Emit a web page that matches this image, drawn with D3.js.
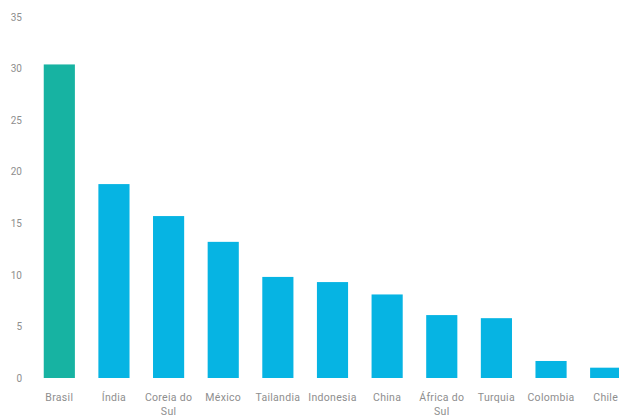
<!DOCTYPE html>
<html>
<head>
<meta charset="utf-8">
<script src="https://cdn.jsdelivr.net/npm/d3@7"></script>
<style>
  body { margin: 0; background: #fff; overflow: hidden; }
  svg text { font-family: "Roboto", sans-serif; fill: #8e8e8e; }
</style>
</head>
<body>
<div id="chart"></div>
<script>
const countries = ["Brasil", "Índia", "Coreia do Sul", "México", "Tailandia", "Indonesia", "China", "África do Sul", "Turquia", "Colombia", "Chile"];
const values = [30.4, 18.8, 15.7, 13.2, 9.8, 9.3, 8.1, 6.1, 5.8, 1.65, 1.0];
const yTicks = [0, 5, 10, 15, 20, 25, 30, 35];

const width = 619, height = 417;

const svg = d3.select("#chart")
  .append("svg")
    .attr("width", width)
    .attr("height", height);

const x = d3.scaleBand()
  .domain(countries)
  .range([32, 633])
  .paddingInner(0.43)
  .paddingOuter(0.215);

const y = d3.scaleLinear()
  .domain([0, 35])
  .range([378, 17]);

// y axis labels, no line
const yAxis = svg.append("g")
  .attr("transform", "translate(22,0)")
  .call(d3.axisLeft(y).tickValues(yTicks).tickSize(0).tickPadding(0));
yAxis.select(".domain").remove();
yAxis.selectAll("text").style("font-size", "10px");

svg.selectAll("rect.bar")
  .data(countries)
  .join("rect")
    .attr("class", "bar")
    .attr("x", d => x(d))
    .attr("y", (d, i) => y(values[i]))
    .attr("width", x.bandwidth())
    .attr("height", (d, i) => y(0) - y(values[i]))
    .attr("fill", (d, i) => i === 0 ? "#17b3a2" : "#06b4e3");

// x labels, wrapped onto two lines where needed
const labels = svg.append("g")
  .selectAll("text")
  .data(countries)
  .join("text")
    .attr("x", d => x(d) + x.bandwidth() / 2)
    .attr("y", 401)
    .attr("text-anchor", "middle")
    .style("font-size", "10.5px")
    .style("letter-spacing", "0.3px");

labels.each(function(d) {
  const t = d3.select(this);
  const words = d.split(" ");
  let lines = [d];
  if (words.length > 2) lines = [words.slice(0, -1).join(" "), words[words.length - 1]];
  lines.forEach((l, k) => {
    t.append("tspan").attr("x", t.attr("x")).attr("dy", k === 0 ? 0 : 14).text(l);
  });
});
</script>
</body>
</html>
